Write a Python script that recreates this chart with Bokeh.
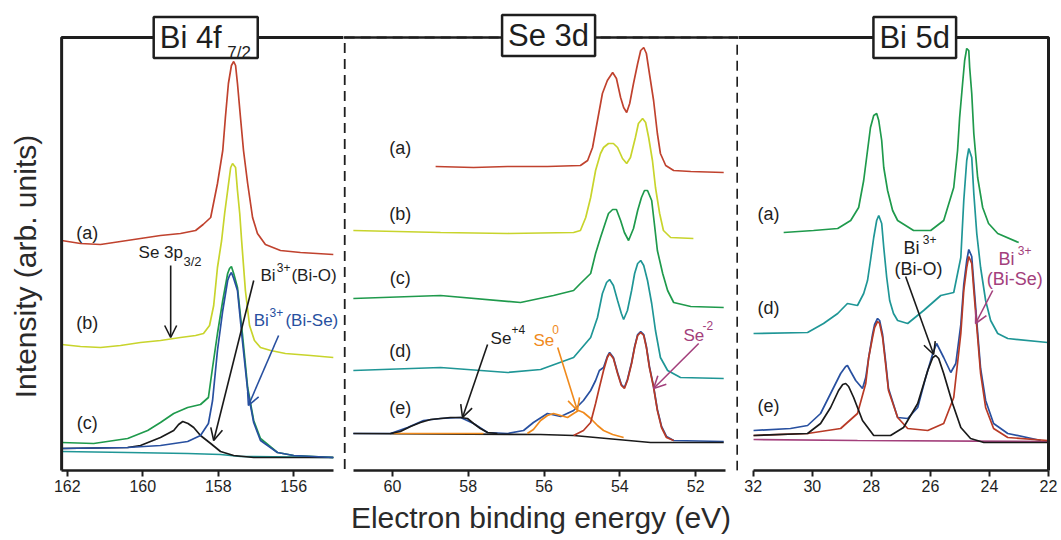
import math
from bokeh.plotting import figure
from bokeh.layouts import row
from bokeh.models import Range1d, LinearAxis, FixedTicker, Label, Arrow, OpenHead, BoxAnnotation
from bokeh.embed import file_html
from bokeh.resources import INLINE

FONT = "Liberation Sans"
INK = "#1e1e1e"
RED = "#c0422e"
YEL = "#c8d42c"
GRN = "#1f9a4c"
TEAL = "#1f9696"
BLUE = "#2850a0"
FITRED = "#b83a26"
ORANGE = "#f08a1c"
BLACK = "#1a1a1a"
PURPLE = "#a3407c"

# ---------------- Panel 1 : Bi 4f7/2 (eV, arb. units) ----------------
bi4f_a_E = [162.15, 161.65, 161.12, 160.59, 160.06, 159.53, 159.00, 158.60, 158.40, 158.20, 158.02, 157.88, 157.81,
            157.73, 157.65, 157.59, 157.54, 157.49, 157.41, 157.33, 157.22, 157.09, 156.96, 156.75, 156.35, 155.82,
            154.95]
bi4f_a_I = [232, 229, 228, 231, 234, 237, 239, 242, 248, 255, 289, 322, 355,
            389, 407, 411, 407, 389, 355, 322, 289, 255, 239, 228, 222, 220,
            218]
bi4f_b_E = [162.15, 161.65, 161.12, 160.59, 160.06, 159.53, 159.00, 158.60, 158.39, 158.23, 158.12, 158.02, 157.91,
            157.83, 157.75, 157.67, 157.62, 157.54, 157.49, 157.43, 157.38, 157.28, 157.17, 157.04, 156.88, 156.61,
            156.22, 155.55, 154.95]
bi4f_b_I = [128, 126, 125, 127, 130, 132, 135, 137, 139, 147, 167, 205, 232,
            259, 282, 305, 309, 305, 282, 259, 232, 182, 147, 132, 125, 122,
            119, 117, 115]
bi4f_c_E = [162.15, 161.30, 160.40, 159.87, 159.53, 159.18, 158.81, 158.47, 158.26, 158.15, 158.02, 157.88,
            157.75, 157.70, 157.65, 157.59, 157.49, 157.36, 157.22, 157.06, 156.88, 156.43, 156.00, 154.95]
bi4f_c_I = [30, 29, 34, 42, 50, 59, 65, 68, 75, 105, 139, 172,
            199, 204, 206, 199, 185, 139, 85, 52, 34, 20, 17, 15]
bi4f_biSe_E = [162.15, 160.40, 159.53, 158.81, 158.47, 158.26, 158.15, 158.02, 157.88, 157.75, 157.70, 157.65,
               157.59, 157.49, 157.36, 157.22, 157.06, 156.88, 156.43, 156.00, 154.95]
bi4f_biSe_I = [24, 25, 27, 31, 37, 49, 72, 122, 162, 192, 197, 200,
               194, 182, 132, 82, 50, 32, 20, 17, 15]
bi4f_biO_E = [162.15, 160.40, 160.06, 159.53, 159.18, 159.05, 158.94, 158.80, 158.65, 158.47, 158.20, 157.94,
              157.59, 157.06, 154.95]
bi4f_biO_I = [24, 25, 27, 35, 42, 48, 51, 49, 45, 37, 29, 21,
              17, 15, 15]
bi4f_bg_E = [162.15, 160.40, 158.81, 157.94, 157.41, 154.95]
bi4f_bg_I = [21, 20, 19, 18, 16, 15]

# ---------------- Panel 2 : Se 3d ----------------
se3d_a_E = [58.86, 57.86, 56.96, 55.91, 55.04, 54.85, 54.72, 54.59, 54.46, 54.33, 54.19, 54.09, 53.98, 53.90,
            53.82, 53.74, 53.64, 53.53, 53.45, 53.37, 53.30, 53.22, 53.11, 53.01, 52.93, 52.79, 52.58, 52.13, 51.26]
se3d_a_I = [306, 305, 306, 306, 307, 312, 325, 352, 379, 392, 400, 394, 375, 365,
            360, 369, 389, 409, 422, 425, 419, 399, 372, 339, 319, 307, 302, 301, 300]
se3d_b_E = [61.03, 58.73, 56.96, 55.22, 55.04, 54.90, 54.77, 54.64, 54.51, 54.43, 54.30, 54.17, 54.06, 53.93,
            53.82, 53.72, 53.59, 53.51, 53.40, 53.32, 53.24, 53.14, 53.06, 52.95, 52.85, 52.66, 52.06]
se3d_b_I = [242, 240, 239, 240, 242, 255, 275, 302, 319, 325, 329, 329, 325, 314,
            309, 315, 335, 349, 354, 350, 335, 312, 285, 259, 242, 235, 234]
se3d_c_E = [61.03, 58.73, 56.62, 55.75, 55.22, 55.04, 54.77, 54.64, 54.51, 54.38, 54.30, 54.19, 54.09, 53.98,
            53.88, 53.77, 53.64, 53.53, 53.43, 53.35, 53.27, 53.16, 53.09, 53.01, 52.87, 52.74, 52.58, 52.13, 51.26]
se3d_c_I = [174, 177, 170, 177, 182, 189, 199, 219, 235, 250, 259, 263, 263, 252,
            240, 232, 244, 262, 275, 282, 282, 272, 249, 222, 199, 182, 170, 166, 165]
se3d_d_E = [61.03, 58.73, 56.96, 56.09, 55.22, 54.77, 54.59, 54.46, 54.35, 54.27, 54.17, 54.06, 53.96, 53.90,
            53.80, 53.69, 53.61, 53.53, 53.45, 53.37, 53.27, 53.16, 53.06, 52.93, 52.74, 52.40, 51.26]
se3d_d_I = [102, 105, 100, 103, 115, 135, 155, 179, 190, 193, 187, 172, 159, 153,
            162, 182, 199, 209, 212, 207, 192, 169, 142, 115, 102, 95, 94]
se3d_e_E = [61.03, 60.05, 59.60, 59.18, 58.73, 58.20, 57.86, 57.49, 56.96, 56.54, 56.28, 55.91, 55.56, 55.22,
            54.96, 54.77, 54.64, 54.54, 54.43, 54.33, 54.27, 54.17, 54.06, 53.96, 53.88, 53.80, 53.69, 53.61,
            53.53, 53.45, 53.37, 53.30, 53.22, 53.11, 53.01, 52.90, 52.77, 52.58, 51.26]
se3d_e_I = [39, 39, 45, 52, 54, 55, 49, 40, 39, 42, 50, 59, 56, 62,
            72, 82, 92, 102, 105, 116, 120, 115, 100, 88, 85, 93, 110, 126,
            138, 141, 138, 126, 106, 86, 63, 46, 36, 32, 31]
se3d_m2_E = [55.22, 54.96, 54.77, 54.64, 54.54, 54.43, 54.33, 54.27, 54.17, 54.06, 53.96, 53.88, 53.80, 53.69,
             53.61, 53.53, 53.45, 53.37, 53.30, 53.22, 53.11, 53.01, 52.90, 52.77, 52.58]
se3d_m2_I = [37, 42, 50, 69, 85, 102, 115, 119, 114, 99, 87, 84, 92, 109,
             125, 137, 140, 137, 125, 105, 85, 62, 45, 35, 32]
se3d_0_E = [56.44, 56.28, 56.09, 55.91, 55.75, 55.56, 55.38, 55.22, 55.09, 54.96, 54.77, 54.59, 54.43, 54.19, 53.90]
se3d_0_I = [39, 43, 52, 57, 59, 57, 55, 59, 62, 60, 54, 47, 42, 38, 35]
se3d_0bg_E = [59.97, 57.60]
se3d_0bg_I = [39, 39]
se3d_p4_E = [60.05, 59.79, 59.52, 59.26, 58.99, 58.73, 58.47, 58.20, 58.02, 57.86, 57.68, 57.49, 57.23]
se3d_p4_I = [39, 41, 46, 50, 53, 54, 55, 55, 54, 49, 44, 40, 39]
se3d_bg_E = [61.03, 56.09, 55.22, 53.19, 51.26]
se3d_bg_I = [39, 38, 37, 30, 30]

# ---------------- Panel 3 : Bi 5d ----------------
bi5d_a_E = [30.97, 29.96, 29.14, 28.70, 28.43, 28.26, 28.13, 28.03, 27.92, 27.82, 27.75, 27.65, 27.58, 27.45,
            27.28, 27.11, 26.57, 25.99, 25.55, 25.21, 25.08, 25.01, 24.91, 24.84, 24.77, 24.70, 24.67, 24.60,
            24.53, 24.40, 24.23, 24.03, 23.72, 23.01]
bi5d_a_I = [240, 242, 244, 252, 265, 292, 322, 345, 357, 359, 352, 332, 305, 282,
            262, 252, 242, 242, 252, 285, 322, 355, 389, 412, 424, 422, 405, 379,
            339, 295, 265, 249, 239, 230]
bi5d_d_E = [31.99, 30.16, 29.62, 29.14, 28.81, 28.47, 28.26, 28.13, 28.03, 27.92, 27.82, 27.75, 27.65, 27.58,
            27.48, 27.38, 27.25, 27.11, 26.77, 26.23, 25.65, 25.21, 24.97, 24.87, 24.77, 24.70, 24.60, 24.53,
            24.43, 24.30, 24.13, 23.96, 23.72, 23.38, 22.03]
bi5d_d_I = [139, 140, 149, 159, 169, 167, 179, 192, 212, 235, 252, 257, 249, 225,
            195, 172, 159, 152, 149, 162, 177, 180, 215, 272, 312, 324, 315, 279,
            239, 205, 172, 152, 139, 134, 130]
bi5d_e_E = [31.99, 30.74, 30.16, 29.72, 29.38, 29.04, 28.87, 28.81, 28.70, 28.53, 28.30, 28.19, 28.09, 27.96,
            27.89, 27.79, 27.72, 27.62, 27.52, 27.42, 27.11, 26.77, 26.43, 26.16, 25.92, 25.79, 25.55, 25.31,
            25.14, 24.97, 24.87, 24.77, 24.70, 24.60, 24.53, 24.40, 24.30, 24.13, 23.86, 23.38, 22.26]
bi5d_e_I = [42, 44, 47, 59, 79, 99, 106, 107, 101, 92, 84, 95, 115, 138,
            148, 154, 152, 138, 112, 84, 55, 54, 65, 95, 119, 129, 115, 100,
            109, 148, 188, 212, 223, 216, 189, 140, 104, 72, 49, 39, 32]
bi5d_biSe_E = [31.99, 30.16, 29.04, 28.47, 28.19, 28.09, 27.96, 27.89, 27.79, 27.72, 27.62, 27.52, 27.42, 27.11,
               26.77, 26.09, 25.55, 25.21, 24.97, 24.87, 24.77, 24.70, 24.60, 24.53, 24.40, 24.30, 24.13, 23.86,
               23.38, 22.03]
bi5d_biSe_I = [37, 39, 44, 59, 89, 115, 135, 145, 151, 149, 135, 109, 82, 55,
               44, 42, 49, 75, 139, 182, 205, 216, 209, 182, 135, 99, 65, 44,
               35, 32]
bi5d_biO_E = [31.99, 30.16, 29.72, 29.38, 29.11, 28.97, 28.87, 28.77, 28.60, 28.30, 27.92, 27.35, 26.91, 26.43,
              26.09, 25.92, 25.82, 25.72, 25.55, 25.25, 24.97, 24.64, 24.19, 22.03]
bi5d_biO_I = [37, 39, 49, 65, 82, 88, 89, 86, 75, 52, 37, 37, 45, 69,
              102, 115, 117, 114, 99, 69, 45, 34, 30, 30]
bi5d_bg_E = [31.99, 28.47, 22.03]
bi5d_bg_I = [33, 32, 31]

# ---------------- axes / ticks / tags ----------------
p1_ticks = [162, 160, 158, 156]
p2_ticks = [60, 58, 56, 54, 52]
p3_ticks = [32, 30, 28, 26, 24, 22]
tags_p1 = ["(a)", "(b)", "(c)"]
tags_p1_I = [240, 150, 50]
tags_p2 = ["(a)", "(b)", "(c)", "(d)", "(e)"]
tags_p2_I = [325, 259, 195, 122, 65]
tags_p3 = ["(a)", "(d)", "(e)"]
tags_p3_I = [259, 165, 67]

Y_RANGE = (2, 472)
TOP = 435  # intensity level of the panel frame's top edge


def make_fig(width, xr):
    p = figure(width=width, height=540, x_range=Range1d(*xr), y_range=Range1d(*Y_RANGE),
               x_axis_type=None, y_axis_type=None, output_backend="svg", toolbar_location=None,
               min_border_left=0, min_border_right=0, min_border_top=0, min_border_bottom=70)
    p.outline_line_color = None
    p.background_fill_color = "white"
    p.border_fill_color = "white"
    return p


def bottom_axis(ticks, bounds, label=None):
    ax = LinearAxis(ticker=FixedTicker(ticks=ticks), bounds=bounds, axis_line_width=2.5, axis_line_color=INK,
                    major_tick_out=6, major_tick_in=0, major_tick_line_width=2, major_tick_line_color=INK,
                    minor_tick_line_color=None, major_label_standoff=3,
                    major_label_text_font=FONT, major_label_text_font_size="16px",
                    major_label_text_color=INK)
    if label:
        ax.axis_label = label
        ax.axis_label_text_font = FONT
        ax.axis_label_text_font_size = "30px"
        ax.axis_label_text_font_style = "normal"
        ax.axis_label_text_color = "#2a2a2a"
        ax.axis_label_standoff = 6
    return ax


def border(p, left, right, top, dash="solid", width=2.5):
    p.add_layout(BoxAnnotation(left=left, right=right, top=top, bottom=-300, fill_color=None, fill_alpha=0,
                               line_color=INK, line_alpha=1.0, line_width=width, line_dash=dash))


def text(p, x, y, s, size, color=INK, align="left", angle=0.0):
    p.add_layout(Label(x=x, y=y, text=s, text_font=FONT, text_font_size=f"{size}px", text_color=color,
                       text_align=align, text_baseline="middle", angle=angle))


def box_title(p, x, y, s, align, pad):
    p.add_layout(Label(x=x, y=y, text=s, text_font=FONT, text_font_size="31px", text_color=INK,
                       text_align=align, text_baseline="middle", border_line_color=INK, border_line_width=2.5,
                       border_line_alpha=1.0, background_fill_color="white", background_fill_alpha=1.0,
                       padding=pad))


def arrow(p, xs, ys, xe, ye, color):
    p.add_layout(Arrow(end=OpenHead(size=12, line_color=color, line_width=1.6),
                       x_start=xs, y_start=ys, x_end=xe, y_end=ye, line_color=color, line_width=1.6))


LW = 1.7

# ---------- figure 1 ----------
p1 = make_fig(343, (163.77, 154.68))
p1.add_layout(bottom_axis(p1_ticks, (154.95, 162.15)), "below")
border(p1, 162.15, 140.0, TOP, width=3)
p1.line(bi4f_a_E, bi4f_a_I, line_color=RED, line_width=LW)
p1.line(bi4f_b_E, bi4f_b_I, line_color=YEL, line_width=LW)
p1.line(bi4f_c_E, bi4f_c_I, line_color=GRN, line_width=LW)
p1.line(bi4f_bg_E, bi4f_bg_I, line_color=TEAL, line_width=LW)
p1.line(bi4f_biO_E, bi4f_biO_I, line_color=BLACK, line_width=LW)
p1.line(bi4f_biSe_E, bi4f_biSe_I, line_color=BLUE, line_width=LW)
for t, yv in zip(tags_p1, tags_p1_I):
    text(p1, 161.47, yv, t, 18, align="center")
text(p1, 160.11, 220, "Se 3p", 17)
text(p1, 158.92, 211, "3/2", 13)
arrow(p1, 159.26, 207, 159.26, 135, BLACK)
text(p1, 156.88, 197, "Bi", 17)
text(p1, 156.45, 205, "3+", 12)
text(p1, 156.06, 197, "(Bi-O)", 17)
arrow(p1, 157.06, 192, 158.12, 32, BLACK)
text(p1, 157.06, 152, "Bi", 17, BLUE)
text(p1, 156.64, 160, "3+", 12, BLUE)
text(p1, 156.22, 152, "(Bi-Se)", 17, BLUE)
arrow(p1, 156.40, 137, 157.20, 67, BLUE)
box_title(p1, 159.71, TOP, "Bi 4f", "left", {"left": 6, "right": 36, "top": 3, "bottom": 3})
text(p1, 157.76, 420, "7/2", 17)
text(p1, 163.10, 206, "Intensity (arb. units)", 30, "#2a2a2a", "center", math.pi / 2)

# ---------- figure 2 ----------
p2 = make_fig(395, (61.29, 50.87))
p2.add_layout(bottom_axis(p2_ticks, (51.21, 61.03), "Electron binding energy (eV)"), "below")
border(p2, 61.26, 50.90, TOP, dash="10 6", width=2)
border(p2, 70.0, 40.0, TOP)
p2.line(se3d_a_E, se3d_a_I, line_color=RED, line_width=LW)
p2.line(se3d_b_E, se3d_b_I, line_color=YEL, line_width=LW)
p2.line(se3d_c_E, se3d_c_I, line_color=GRN, line_width=LW)
p2.line(se3d_d_E, se3d_d_I, line_color=TEAL, line_width=LW)
p2.line(se3d_e_E, se3d_e_I, line_color=BLUE, line_width=LW)
p2.line(se3d_bg_E, se3d_bg_I, line_color=BLACK, line_width=LW)
p2.line(se3d_0bg_E, se3d_0bg_I, line_color=ORANGE, line_width=LW)
p2.line(se3d_0_E, se3d_0_I, line_color=ORANGE, line_width=LW)
p2.line(se3d_p4_E, se3d_p4_I, line_color=BLACK, line_width=LW)
p2.line(se3d_m2_E, se3d_m2_I, line_color=FITRED, line_width=LW)
for t, yv in zip(tags_p2, tags_p2_I):
    text(p2, 59.79, yv, t, 18, align="center")
text(p2, 57.41, 134, "Se", 17)
text(p2, 56.86, 143, "+4", 12)
arrow(p2, 57.49, 128, 58.15, 55, BLACK)
text(p2, 56.28, 132, "Se", 17, ORANGE)
text(p2, 55.78, 143, "0", 12, ORANGE)
arrow(p2, 55.64, 125, 55.12, 62, ORANGE)
text(p2, 52.32, 137, "Se", 17, PURPLE)
text(p2, 51.82, 147, "-2", 12, PURPLE)
arrow(p2, 51.92, 129, 53.11, 84, PURPLE)
box_title(p2, 55.88, 437, "Se 3d", "center", {"left": 6, "right": 6, "top": 3, "bottom": 3})

# ---------- figure 3 ----------
p3 = make_fig(323, (32.5, 21.56))
p3.add_layout(bottom_axis(p3_ticks, (22.0, 32.0)), "below")
border(p3, 40.0, 22.0, TOP, width=3)
p3.line(bi5d_a_E, bi5d_a_I, line_color=GRN, line_width=LW)
p3.line(bi5d_d_E, bi5d_d_I, line_color=TEAL, line_width=LW)
p3.line(bi5d_e_E, bi5d_e_I, line_color=BLUE, line_width=LW)
p3.line(bi5d_bg_E, bi5d_bg_I, line_color=PURPLE, line_width=LW)
p3.line(bi5d_biSe_E, bi5d_biSe_I, line_color=FITRED, line_width=LW)
p3.line(bi5d_biO_E, bi5d_biO_I, line_color=BLACK, line_width=LW)
for t, yv in zip(tags_p3, tags_p3_I):
    text(p3, 31.48, yv, t, 18, align="center")
text(p3, 26.91, 225, "Bi", 18)
text(p3, 26.26, 233, "3+", 12)
text(p3, 26.40, 204, "(Bi-O)", 18, align="center")
arrow(p3, 26.84, 196, 25.89, 118, BLACK)
text(p3, 23.69, 214, "Bi", 18, PURPLE)
text(p3, 23.04, 222, "3+", 12, PURPLE)
text(p3, 23.14, 194, "(Bi-Se)", 18, PURPLE, "center")
arrow(p3, 23.89, 182, 24.47, 149, PURPLE)
box_title(p3, 26.53, TOP, "Bi 5d", "center", {"left": 6, "right": 6, "top": 3, "bottom": 3})

layout = row(p1, p2, p3)
open("out.html", "w").write(file_html(layout, INLINE, title="XPS spectra"))
